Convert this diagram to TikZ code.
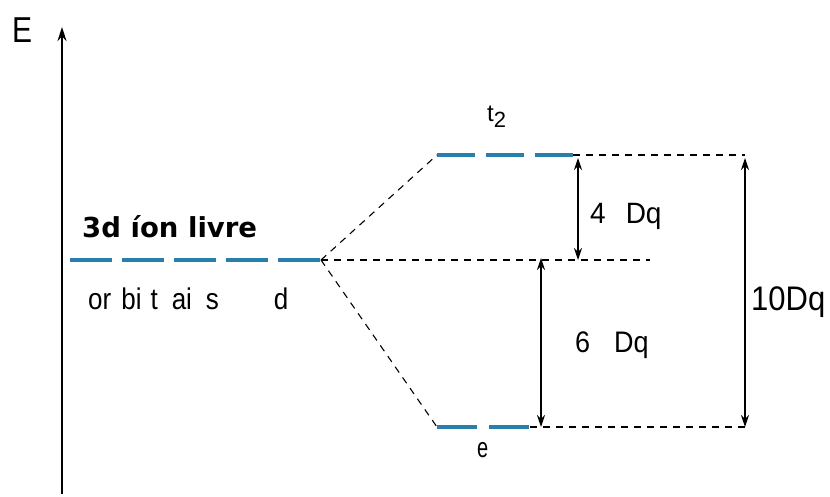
\documentclass[tikz,border=0pt]{standalone}
\usepackage{fontspec}
\setmainfont{Liberation Sans}
\newfontfamily\boldfam{DejaVu Sans}
\usetikzlibrary{arrows.meta}
\definecolor{lvl}{RGB}{40,128,170}
\begin{document}
\begin{tikzpicture}[x=1pt,y=-1pt,
  level/.style={draw=lvl,line width=4pt},
  guide/.style={draw=black,line width=1.1pt,dash pattern=on 7pt off 6pt},
  gap/.style={draw=black,line width=1.4pt,{Stealth[length=12pt,width=8pt]}-{Stealth[length=12pt,width=8pt]}},
  lbl/.style={inner sep=0pt,anchor=base west}]
\useasboundingbox (0,0) rectangle (830,497);
\fill[white] (0,0) rectangle (830,497);
% axis
\coordinate (ax0) at (62,494);
\coordinate (ax1) at (62,27);
\draw[line width=1.6pt,-{Stealth[length=14pt,width=9pt]}] (ax0) -- (ax1);
\node[lbl,font=\fontsize{30}{30}\selectfont] (E) at (12,43) {\scalebox{1}[1.2]{E}};
% free ion
\coordinate (f0) at (70,260);
\coordinate (f1) at (321,260);
\draw[level,dash pattern=on 42pt off 10pt] (f0) -- (f1);
\node[lbl,font=\boldfam\bfseries\fontsize{27.5}{28}\selectfont] (free) at (82,238) {3d íon livre};
\node[lbl,font=\fontsize{26}{26}\selectfont] (orb) at (88,309)
  {\scalebox{1}[1.15]{or\hspace{10pt}bi\hspace{9pt}t\hspace{14pt}ai\hspace{14pt}s\hspace{55pt}d}};
% t2
\coordinate (t0) at (437,155);
\coordinate (t1) at (573,155);
\draw[level,dash pattern=on 38pt off 11pt] (t0) -- (t1);
\node[lbl,font=\fontsize{24}{26}\selectfont] (t2) at (487,122) {t\raisebox{-6pt}{\fontsize{22}{22}\selectfont 2}};
% e
\coordinate (e0) at (437,427);
\coordinate (e1) at (530,427);
\draw[level,dash pattern=on 40pt off 12pt] (e0) -- (e1);
\node[lbl,font=\fontsize{20}{22}\selectfont] (elab) at (477,457) {\scalebox{1}[1.4]{e}};
% guides
\coordinate (b0) at (650,260);
\coordinate (t2r) at (745,155);
\coordinate (er) at (745,427);
\draw[guide] (f1) -- (t0);
\draw[guide] (f1) -- (e0);
\draw[guide] (f1) -- (b0);
\draw[guide] (t1) -- (t2r);
\draw[guide] (e1) -- (er);
% arrows
\coordinate (a4t) at (578,158);
\coordinate (a4b) at (578,260);
\coordinate (a6t) at (541,258);
\coordinate (a6b) at (541,427);
\coordinate (a10t) at (745,158);
\coordinate (a10b) at (745,427);
\draw[gap] (a4t) -- (a4b);
\draw[gap] (a6t) -- (a6b);
\draw[gap] (a10t) -- (a10b);
\node[lbl,font=\fontsize{28}{28}\selectfont] (l4) at (590,224) {\scalebox{1}[1.05]{4\hspace{20pt}Dq}};
\node[lbl,font=\fontsize{27}{28}\selectfont] (l6) at (575,352) {\scalebox{1}[1.1]{6\hspace{24pt}Dq}};
\node[lbl,font=\fontsize{31}{31}\selectfont] (l10) at (751,310) {\scalebox{1}[1.1]{10Dq}};
\end{tikzpicture}
\end{document}
